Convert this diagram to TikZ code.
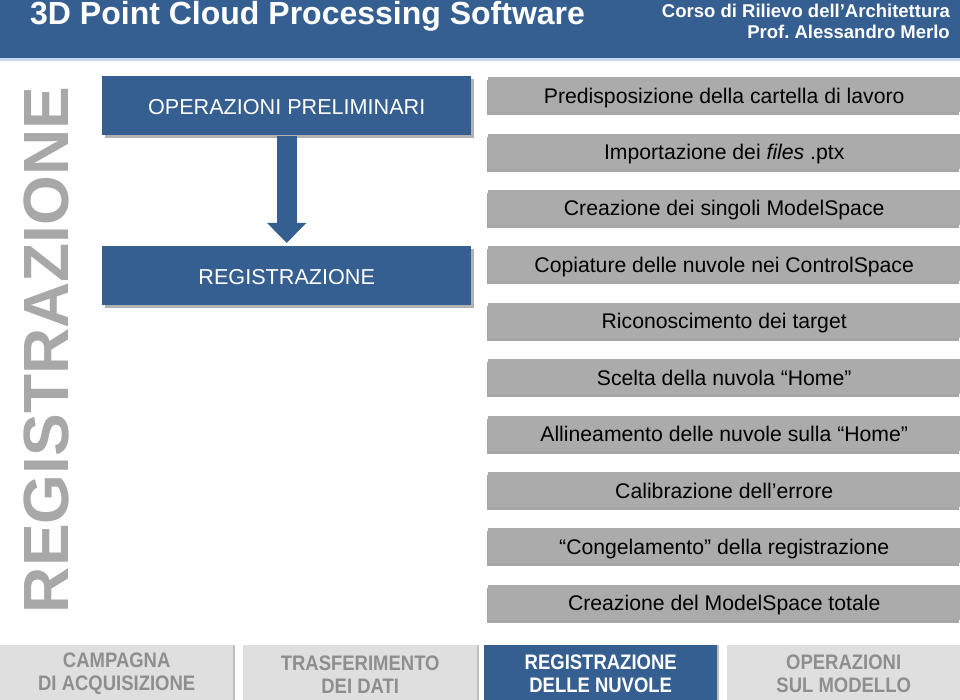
\documentclass[tikz,border=0pt]{standalone}
\usepackage{fontspec}
\setmainfont{Liberation Sans}
\frenchspacing
\usetikzlibrary{shadows,arrows.meta}
\definecolor{hdrblue}{HTML}{365F91}
\definecolor{lineblue}{HTML}{C6D9F1}
\definecolor{boxgrey}{HTML}{ABABAB}
\definecolor{biggrey}{HTML}{A8A8A8}
\definecolor{tabgrey}{HTML}{DFDFDF}
\definecolor{tabtext}{HTML}{8E8E8E}
\tikzset{
  bluebox/.style={fill=hdrblue, draw=none, minimum width=369pt, minimum height=59pt, anchor=north west,
    text=white, font=\fontsize{21.6}{25}\selectfont, inner sep=0pt, text height=28pt, text depth=11pt,
    drop shadow={shadow xshift=3pt, shadow yshift=-3pt, fill=black, opacity=0.3}},
  greybox/.style={fill=boxgrey, draw=none, minimum width=472pt, minimum height=35pt, anchor=north west,
    text=black, font=\fontsize{21.2}{24}\selectfont, inner sep=0pt, text height=23.5pt, text depth=6.5pt,
    drop shadow={shadow xshift=-1pt, shadow yshift=-3pt, fill=black, opacity=0.35}},
  tabbox/.style={fill=tabgrey, draw=none, minimum height=58pt, anchor=north west, inner sep=0pt,
    text=tabtext, align=center, font=\fontsize{21}{23}\selectfont\bfseries,
    drop shadow={shadow xshift=2pt, shadow yshift=0pt, fill=black, opacity=0.25}},
  activetab/.style={tabbox, fill=hdrblue, text=white},
  flowarrow/.style={line width=20pt, draw=hdrblue, -{Triangle[width=38pt,length=20pt]}, shorten >=3pt, shorten <=1pt}
}
\newcommand{\narrow}[1]{\scalebox{0.88}[1]{#1}}
\begin{document}
\begin{tikzpicture}[x=1pt, y=-1pt]
\useasboundingbox (0,0) rectangle (960,700);
% header
\fill[hdrblue] (0,0) rectangle (960,58);
\fill[lineblue] (0,58) rectangle (960,61);
\node[anchor=west, text=white, font=\fontsize{32}{36}\selectfont\bfseries, inner sep=0pt] (title) at (30,16) {3D Point Cloud Processing Software};
\node[anchor=east, text=white, font=\fontsize{18.5}{22}\selectfont\bfseries, inner sep=0pt] (corso) at (950,11) {Corso di Rilievo dell’Architettura};
\node[anchor=east, text=white, font=\fontsize{18.5}{22}\selectfont\bfseries, inner sep=0pt] (prof) at (950,32) {Prof. Alessandro Merlo};
% vertical title
\node[rotate=90, anchor=base, text=biggrey, font=\fontsize{64}{70}\selectfont\bfseries, inner sep=0pt] (vert) at (68,350) {REGISTRAZIONE};
% blue boxes
\node[bluebox] (op) at (102,76) {OPERAZIONI PRELIMINARI};
\node[bluebox] (reg) at (102,246) {REGISTRAZIONE};
\draw[flowarrow] (op.south) -- (reg.north);
% grey steps
\node[greybox] (s1) at (488,77) {Predisposizione della cartella di lavoro};
\node[greybox] (s2) at (488,133.4) {Importazione dei \textit{files} .ptx};
\node[greybox] (s3) at (488,189.8) {Creazione dei singoli ModelSpace};
\node[greybox] (s4) at (488,246.2) {Copiature delle nuvole nei ControlSpace};
\node[greybox] (s5) at (488,302.6) {Riconoscimento dei target};
\node[greybox] (s6) at (488,359) {Scelta della nuvola “Home”};
\node[greybox] (s7) at (488,415.4) {Allineamento delle nuvole sulla “Home”};
\node[greybox] (s8) at (488,471.8) {Calibrazione dell’errore};
\node[greybox] (s9) at (488,528.2) {“Congelamento” della registrazione};
\node[greybox] (s10) at (488,584.6) {Creazione del ModelSpace totale};
% tabs
\node[tabbox, minimum width=233pt] (t1) at (0,645) {\narrow{CAMPAGNA}\\\narrow{DI ACQUISIZIONE}};
\node[tabbox, minimum width=234pt] (t2) at (243,645) {\narrow{TRASFERIMENTO}\\\narrow{DEI DATI}};
\node[activetab, minimum width=233pt] (t3) at (484,645) {\narrow{REGISTRAZIONE}\\\narrow{DELLE NUVOLE}};
\node[tabbox, minimum width=233pt] (t4) at (727,645) {\narrow{OPERAZIONI}\\\narrow{SUL MODELLO}};
\end{tikzpicture}
\end{document}
